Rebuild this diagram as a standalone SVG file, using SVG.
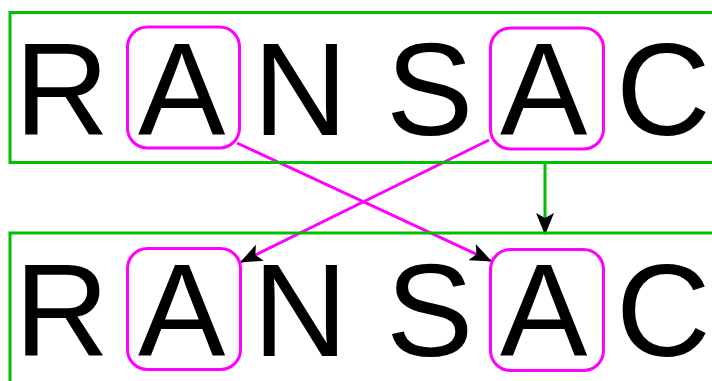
<svg xmlns="http://www.w3.org/2000/svg" width="712" height="381" viewBox="0 0 712 381">
<defs>
<style>
.frame{fill:none;stroke:#00c000;stroke-width:3}
.box{fill:none;stroke:#ff00ff;stroke-width:3}
.ltr{font-family:"Liberation Sans",Arial,sans-serif;font-size:131px;fill:#000}
.mag{stroke:#ff00ff;stroke-width:3;fill:none}
.grn{stroke:#00c000;stroke-width:3;fill:none}
</style>
<marker id="ah" markerUnits="userSpaceOnUse" markerWidth="22" markerHeight="18" viewBox="0 0 22 18" refX="21" refY="9" orient="auto">
<path d="M0,0 L22,9 L0,18 L5,9 Z" fill="#000"/>
</marker>
</defs>
<rect width="712" height="381" fill="#fff"/>
<g id="connectors">
<line class="mag" x1="237" y1="143" x2="491" y2="261" marker-end="url(#ah)"/>
<line class="mag" x1="489" y1="140" x2="241" y2="262" marker-end="url(#ah)"/>
<line class="grn" x1="545" y1="163" x2="545" y2="234" marker-end="url(#ah)"/>
</g>
<g id="top">
<rect class="frame" x="10" y="12.5" width="720" height="150"/>
<rect class="box" x="127.5" y="27" width="112" height="121" rx="20"/>
<rect class="box" x="490.5" y="28" width="113" height="121" rx="20"/>
<text class="ltr" x="14.6" y="135">R</text>
<text class="ltr" x="138" y="135">A</text>
<text class="ltr" x="253" y="135">N</text>
<text class="ltr" x="386" y="135">S</text>
<text class="ltr" x="500" y="135">A</text>
<text class="ltr" x="616" y="135">C</text>
</g>
<g id="bottom">
<rect class="frame" x="10" y="233" width="720" height="200"/>
<rect class="box" x="127.5" y="248.5" width="113" height="121" rx="20"/>
<rect class="box" x="490.5" y="249.5" width="113" height="121" rx="20"/>
<text class="ltr" x="14.6" y="356">R</text>
<text class="ltr" x="138" y="356">A</text>
<text class="ltr" x="253" y="356">N</text>
<text class="ltr" x="386" y="356">S</text>
<text class="ltr" x="500" y="356">A</text>
<text class="ltr" x="616" y="356">C</text>
</g>
</svg>
